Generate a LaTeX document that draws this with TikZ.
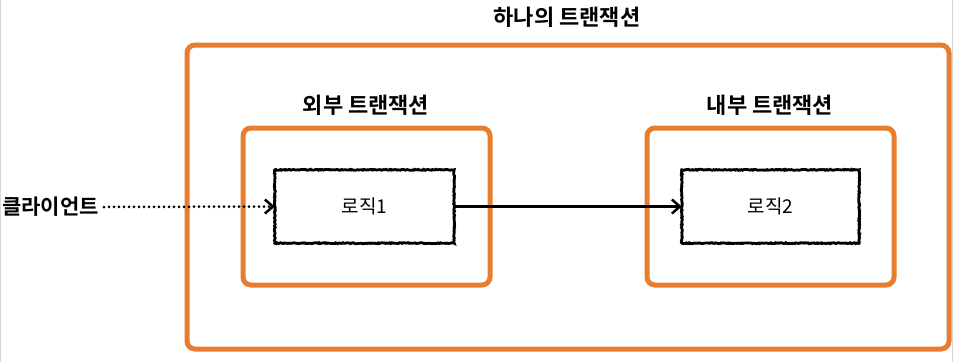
\documentclass[tikz,border=0pt]{standalone}
\usepackage{fontspec}
\setmainfont{Noto Sans CJK KR}[BoldFont={Noto Sans CJK KR Bold}]
\usetikzlibrary{arrows.meta,decorations.pathmorphing}
\definecolor{tor}{RGB}{232,125,48}
\definecolor{edge}{RGB}{215,215,215}
\tikzset{
  obox/.style={draw=tor,line width=5pt,rounded corners=8pt},
  lbox/.style={draw=black,line width=2.8pt,decorate,decoration={random steps,segment length=1.2pt,amplitude=0.5pt}},
  lbl/.style={font=\bfseries\fontsize{22}{26}\selectfont,inner sep=0pt},
  txt/.style={font=\fontsize{19}{22}\selectfont,inner sep=0pt},
  conn/.style={line width=2.5pt,-{Straight Barb[length=8pt,width=14pt,line width=2.5pt]}},
  dotconn/.style={line width=3pt,line cap=round,dash pattern=on 0pt off 5pt,
    -{Straight Barb[length=8pt,width=14pt,line width=2.5pt,line cap=butt]}}
}
\begin{document}
\begin{tikzpicture}[x=1pt,y=-1pt]
\useasboundingbox (0,0) rectangle (962,362);
\draw[edge,line width=1pt] (0.5,0) -- (0.5,362);
\draw[edge,line width=1pt] (952,0) -- (952,362);
% outer transaction
\draw[obox] (187,45) rectangle (949,349);
\node[lbl] (title) at (567,17) {하나의 트랜잭션};
% outer / inner transaction boxes
\draw[obox] (243,128) rectangle (490,285);
\draw[obox] (647,128) rectangle (894,285);
\node[lbl] (outl) at (366,105) {외부 트랜잭션};
\node[lbl] (innl) at (770,105) {내부 트랜잭션};
% logic boxes
\node[draw=none,inner sep=0pt,minimum width=179pt,minimum height=73pt] (l1) at (364.5,206.5) {};
\node[draw=none,inner sep=0pt,minimum width=177pt,minimum height=73pt] (l2) at (770.5,206.5) {};
\draw[lbox] (l1.north west) rectangle (l1.south east);
\draw[lbox] (l2.north west) rectangle (l2.south east);
\node[txt] (t1) at (l1) {로직1};
\node[txt] (t2) at (l2) {로직2};
% client
\node[lbl,font=\bfseries\fontsize{21}{24}\selectfont,anchor=west] (cl) at (2,207) {클라이언트};
\draw[dotconn] (cl.east) ++(5pt,0) coordinate (cs) -- (l1.west);
\draw[conn] (l1.east) -- (l2.west);
\end{tikzpicture}
\end{document}
